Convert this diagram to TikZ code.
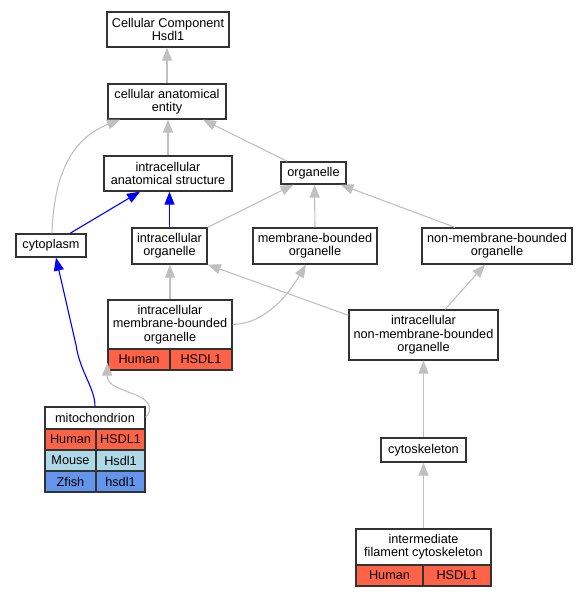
\documentclass[tikz,border=0pt]{standalone}
\usepackage{fontspec}
\setmainfont{Liberation Sans}
\usetikzlibrary{arrows.meta}
\definecolor{tomatoc}{HTML}{FF6347}
\definecolor{lblue}{HTML}{ADD8E6}
\definecolor{cblue}{HTML}{6495ED}
\definecolor{edgegray}{HTML}{C0C0C0}
\definecolor{boxline}{HTML}{333333}
\newcommand{\fsz}{\fontsize{12.7pt}{13.4pt}\selectfont}
\tikzset{
  box/.style={draw=boxline, line width=1.3pt, fill=white, inner sep=0pt, align=center, font=\fsz},
  cell/.style={box, minimum height=21pt},
  gedge/.style={draw=edgegray, line width=1.1pt, -{Triangle[length=13pt,width=10pt]}},
  bedge/.style={draw=blue, line width=1.1pt, -{Triangle[length=13pt,width=10pt]}},
}
\begin{document}
\begin{tikzpicture}[x=1pt,y=-1pt]
\useasboundingbox (0,0) rectangle (588,597);
% nodes
\node[box, minimum width=122pt, minimum height=35pt] (cch) at (168,29.5) {Cellular Component\\Hsdl1};
\node[box, minimum width=118pt, minimum height=35pt] (cae) at (167,101.5) {cellular anatomical\\entity};
\node[box, minimum width=128pt, minimum height=35pt] (ias) at (168,173.5) {intracellular\\anatomical structure};
\node[box, minimum width=65pt, minimum height=22pt] (org) at (313.5,173) {organelle};
\node[box, minimum width=70pt, minimum height=23pt] (cyto) at (51,245.5) {cytoplasm};
\node[box, minimum width=75pt, minimum height=36pt] (io) at (169.5,246) {intracellular\\organelle};
\node[box, minimum width=124pt, minimum height=36pt] (mbo) at (315,246) {membrane-bounded\\organelle};
\node[box, minimum width=150pt, minimum height=36pt] (nmbo) at (497,246) {non-membrane-bounded\\organelle};
\node[box, minimum width=124pt, minimum height=49pt] (imbo) at (170,324.5) {intracellular\\membrane-bounded\\organelle};
\node[cell, fill=tomatoc, minimum width=62pt] (imboA) at (139,359.5) {Human};
\node[cell, fill=tomatoc, minimum width=62pt] (imboB) at (201,359.5) {HSDL1};
\node[box, minimum width=149pt, minimum height=50pt] (inmbo) at (423.5,335) {intracellular\\non-membrane-bounded\\organelle};
\node[box, minimum width=100pt, minimum height=22pt] (mito) at (95,418) {mitochondrion};
\node[cell, fill=tomatoc, minimum width=51pt] (mitoHa) at (70.5,439.5) {Human};
\node[cell, fill=tomatoc, minimum width=49pt] (mitoHb) at (120.5,439.5) {HSDL1};
\node[cell, fill=lblue, minimum width=51pt] (mitoMa) at (70.5,460.5) {Mouse};
\node[cell, fill=lblue, minimum width=49pt] (mitoMb) at (120.5,460.5) {Hsdl1};
\node[cell, fill=cblue, minimum width=51pt] (mitoZa) at (70.5,481.5) {Zfish};
\node[cell, fill=cblue, minimum width=49pt] (mitoZb) at (120.5,481.5) {hsdl1};
\node[box, minimum width=85pt, minimum height=24pt] (cytosk) at (423.5,450) {cytoskeleton};
\node[box, minimum width=135pt, minimum height=36pt] (ifc) at (423.5,547) {intermediate\\filament cytoskeleton};
\node[cell, fill=tomatoc, minimum width=67pt] (ifcA) at (389.5,575.5) {Human};
\node[cell, fill=tomatoc, minimum width=68pt] (ifcB) at (457,575.5) {HSDL1};
% edges
\draw[gedge] (cae.north) -- (cae.north |- cch.south);
\draw[gedge] (ias.north) -- (ias.north |- cae.south);
\draw[gedge] ([xshift=1pt]cyto.north) .. controls (54,165) and (78,136) .. ([xshift=-47pt]cae.south);
\draw[gedge] ([xshift=7pt]org.north west) -- ([xshift=36pt]cae.south);
\draw[bedge] ([xshift=19pt]cyto.north) -- ([xshift=-28pt]ias.south);
\draw[bedge] (io.north) -- (io.north |- ias.south);
\draw[gedge] (io.north east) -- ([xshift=-20pt]org.south);
\draw[gedge] (mbo.north) -- ([xshift=1pt]org.south);
\draw[gedge] ([xshift=-42pt]nmbo.north) -- ([xshift=27pt]org.south);
\draw[gedge] (imbo.north) -- (imbo.north |- io.south);
\draw[gedge] ([yshift=-6pt]inmbo.north west) -- (io.south east);
\draw[gedge] (imbo.east) .. controls (262,324) and (285,300) .. ([xshift=-9pt]mbo.south);
\draw[gedge] ([xshift=21.5pt]inmbo.north) -- ([xshift=-12pt]nmbo.south);
\draw[gedge] (cytosk.north) -- (inmbo.south);
\draw[gedge] (ifc.north) -- (cytosk.south);
\draw[bedge] (mito.north) .. controls (95,388) and (80,372) .. (76,345) -- ([xshift=5pt]cyto.south);
\draw[gedge] ([yshift=1pt]mito.east) .. controls (152,412) and (152,401) .. (136,395) .. controls (118,388) and (107,385) .. ([yshift=8pt]imboA.south west);
\end{tikzpicture}
\end{document}
